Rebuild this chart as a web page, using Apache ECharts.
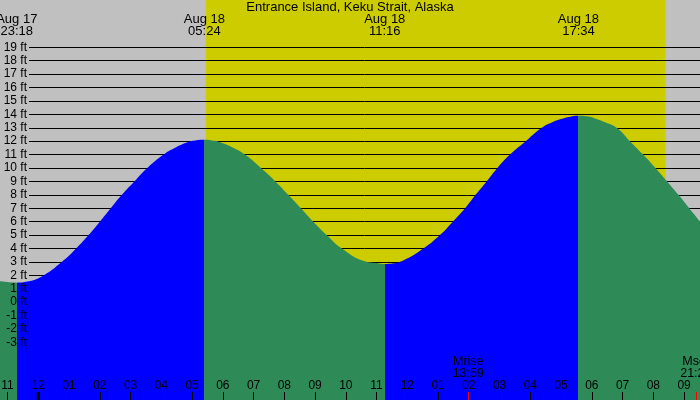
<!DOCTYPE html>
<html><head><meta charset="utf-8">
<script src="https://cdn.jsdelivr.net/npm/echarts@6/dist/echarts.min.js"></script>
<style>html,body{margin:0;padding:0;background:#C0C0C0;overflow:hidden}#c{width:700px;height:400px}</style>
</head><body><div id="c"></div>
<script>
const chartTitle = 'Entrance Island, Keku Strait, Alaska';
// Tide curve readings: hours after midnight Aug 18, height in ft
const tideHours = [-1.25, -1.0, -0.7, -0.35, 0.18, 0.765, 1.23, 1.635, 2.0, 2.355, 2.715, 3.125, 3.545, 4.075, 4.4, 4.83, 5.1, 5.4, 5.65, 5.84, 6.3, 6.72, 7.24, 7.71, 8.13, 8.54, 8.94, 9.38, 9.87, 10.62, 11.0, 11.267, 11.5, 11.79, 12.52, 13.06, 13.48, 13.88, 14.22, 14.58, 14.93, 15.34, 15.85, 16.37, 16.7, 17.0, 17.3, 17.567, 17.85, 18.1, 18.45, 18.81, 19.24, 19.67, 20.07, 20.45, 20.82, 21.17, 21.52];
const tideFeet  = [1.55, 1.49, 1.45, 1.53, 2, 3, 4, 5, 6, 7, 8, 9, 10, 11, 11.45, 11.9, 12.05, 12.1, 12.05, 11.97, 11.55, 11, 10, 9, 8, 7, 6, 5, 4, 3.05, 2.92, 2.85, 2.88, 3.02, 4, 5, 6, 7, 8, 9, 10, 11, 12, 13, 13.4, 13.65, 13.83, 13.9, 13.85, 13.7, 13.4, 13, 12, 11, 10, 9, 8, 7, 6];
const extremeDates = ['Aug 17', 'Aug 18', 'Aug 18', 'Aug 18'];
const extremeTimes = ['23:18', '05:24', '11:16', '17:34'];
const extremeKinds = ['low', 'high', 'low', 'high'];
const sunTimes = ['05:27', '20:24'];
const moonLabels = ['Mrise', 'Mset'];
const moonTimes = ['13:59', '21:23'];
const feetTicks = [19, 18, 17, 16, 15, 14, 13, 12, 11, 10, 9, 8, 7, 6, 5, 4, 3, 2, 1, 0, -1, -2, -3];

const FONT = '"Liberation Sans", Arial, sans-serif';
const RISING = '#0000FF', FALLING = '#2E8B57', DAY = '#CCCC00';
const Y_MIN = -7.3, Y_MAX = 22.528;

function toHour(date, t) {
  const [h, m] = t.split(':').map(Number);
  return (date === 'Aug 17' ? -24 : 0) + h + m / 60;
}
const extremeHours = extremeTimes.map((t, i) => toHour(extremeDates[i], t));
const sunHours = sunTimes.map(t => toHour('Aug 18', t));
const moonHours = moonTimes.map(t => toHour('Aug 18', t));
const tideData = tideHours.map((h, i) => [h, tideFeet[i]]);
const dayData = sunHours.map(h => [h, Y_MAX]);

const pieces = [];
extremeHours.forEach((h, i) => {
  const before = extremeKinds[i] === 'low' ? FALLING : RISING;
  if (i === 0) pieces.push({ lt: h, color: before });
  else pieces.push({ gte: extremeHours[i - 1], lt: h, color: before });
});
pieces.push({ gte: extremeHours[extremeHours.length - 1], color: extremeKinds[extremeKinds.length - 1] === 'high' ? FALLING : RISING });

function fmtHour(v) {
  const hh = ((Math.round(v) % 24) + 24) % 24;
  const t = hh % 12 === 0 ? 12 : hh % 12;
  return String(t).padStart(2, '0');
}

const chart = echarts.init(document.getElementById('c'));
chart.setOption({
  backgroundColor: '#C0C0C0',
  animation: false,
  grid: [
    { left: -23.2, right: -14.8, top: 0, bottom: 0, containLabel: false, outerBoundsMode: 'none' },
    { left: 29, right: 0, top: 47.31, bottom: 57.67, containLabel: false, outerBoundsMode: 'none' }
  ],
  xAxis: [
    { type: 'value', gridIndex: 0, min: -2, max: 22, interval: 1, z: 5,
      axisLine: { show: false, onZero: false }, splitLine: { show: false },
      axisTick: { show: true, inside: true, length: 8, lineStyle: { color: '#000', width: 1 } },
      axisLabel: { show: true, inside: true, margin: 8, color: '#000', fontSize: 12, fontFamily: FONT, formatter: fmtHour } },
    { type: 'value', gridIndex: 1, min: -2, max: 22, show: false, axisLine: { onZero: false } }
  ],
  yAxis: [
    { type: 'value', gridIndex: 0, min: Y_MIN, max: Y_MAX, show: false },
    { type: 'value', gridIndex: 1, position: 'left', min: feetTicks[feetTicks.length - 1], max: feetTicks[0], interval: 1, z: 1,
      axisLine: { show: false }, axisTick: { show: false }, axisLabel: { show: false },
      splitLine: { show: true, lineStyle: { color: '#000', width: 1 } } },
    { type: 'value', gridIndex: 1, position: 'left', min: feetTicks[feetTicks.length - 1], max: feetTicks[0], interval: 1, z: 6,
      axisLine: { show: false }, axisTick: { show: false }, splitLine: { show: false },
      axisLabel: { show: true, margin: 2, color: '#000', fontSize: 12, fontFamily: FONT, formatter: v => v + ' ft' } }
  ],
  visualMap: { type: 'piecewise', show: false, dimension: 0, seriesIndex: 1, pieces: pieces },
  series: [
    { type: 'line', xAxisIndex: 0, yAxisIndex: 0, z: 0, silent: true, symbol: 'none',
      data: dayData, itemStyle: { color: DAY }, lineStyle: { width: 0 },
      areaStyle: { color: DAY, opacity: 1, origin: 'start' } },
    { type: 'line', xAxisIndex: 0, yAxisIndex: 0, z: 2, silent: true, symbol: 'none',
      smooth: 0.5, data: tideData,
      lineStyle: { width: 0 }, areaStyle: { opacity: 1, origin: 'start' } }
  ]
});

const px = h => chart.convertToPixel({ xAxisIndex: 0 }, h);
const g = [];
g.push({ type: 'text', x: 350, y: 7.3, z: 100, style: { text: chartTitle, fill: '#000', font: '13px ' + FONT, align: 'center', verticalAlign: 'middle' } });
extremeHours.forEach((h, i) => {
  g.push({ type: 'text', x: px(h), y: 25.3, z: 100, style: { text: extremeDates[i] + '\n' + extremeTimes[i], fill: '#000', font: '13px ' + FONT, lineHeight: 12.7, align: 'center', verticalAlign: 'middle' } });
});
moonHours.forEach((h, i) => {
  const x = px(h);
  g.push({ type: 'text', x: x, y: 367.5, z: 100, style: { text: moonLabels[i] + '\n' + moonTimes[i], fill: '#000', font: '12.5px ' + FONT, lineHeight: 11.8, align: 'center', verticalAlign: 'middle' } });
  g.push({ type: 'line', z: 100, shape: { x1: Math.round(x) + 0.5, y1: 392, x2: Math.round(x) + 0.5, y2: 400 }, style: { stroke: '#FF0000', lineWidth: 1 } });
});
const mx = px(0);
g.push({ type: 'rect', z: 100, shape: { x: mx - 1.5, y: 392, width: 3, height: 8 }, style: { fill: '#000' } });
chart.setOption({ graphic: g });
</script>
</body></html>
